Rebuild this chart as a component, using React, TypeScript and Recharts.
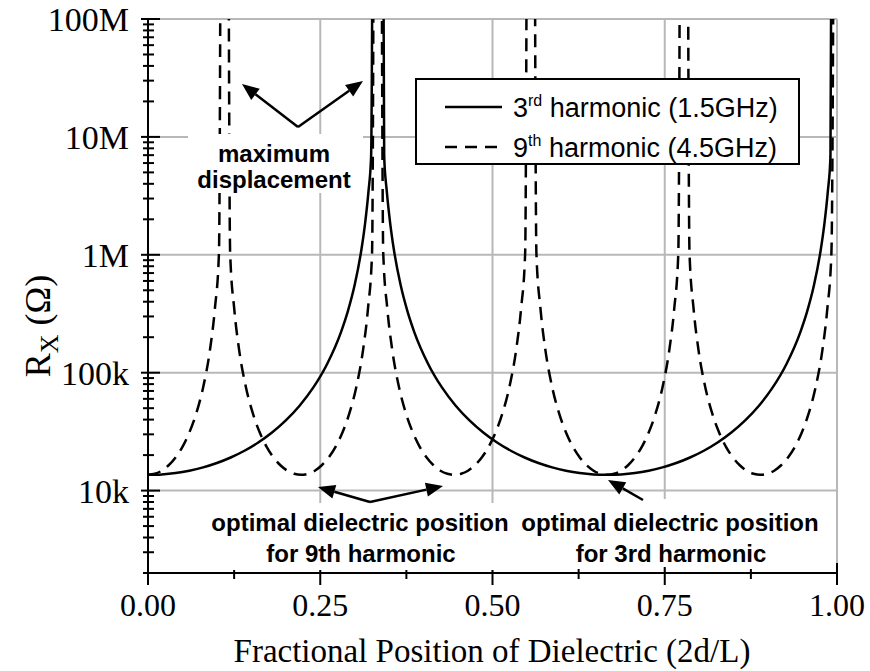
import { LineChart, Line, XAxis, YAxis, CartesianGrid, Legend } from 'recharts';

const FONT_SERIF = '"Liberation Serif", "Times New Roman", serif';
const FONT_SANS = '"Liberation Sans", Arial, sans-serif';

// 3rd harmonic (1.5GHz), solid line. 1e20 marks the off-scale pole.
const thirdX = [
  0, 0.02, 0.04, 0.06, 0.08, 0.1, 0.12, 0.14, 0.16, 0.18, 0.2, 0.22, 0.24, 0.26, 0.28, 0.29, 0.3, 0.31, 0.315, 0.32, 0.3238, 0.3333,
  0.3428, 0.3466, 0.3516, 0.3566, 0.3666, 0.3766, 0.3866, 0.4066, 0.4266, 0.4466, 0.4666, 0.4866, 0.5066, 0.5266, 0.5466, 0.5666, 0.5866, 0.6066, 0.6266, 0.6466, 0.6667,
  0.6867, 0.7067, 0.7267, 0.7467, 0.7667, 0.7867, 0.8067, 0.8267, 0.8467, 0.8667, 0.8867, 0.9067, 0.9267, 0.9467, 0.9567, 0.9667, 0.9767, 0.9817, 0.9867, 0.9905, 1.0,
];
const thirdR = [
  13600, 13720, 14090, 14750, 15730, 17130, 19080, 21780, 25590, 31100, 39400, 52500, 75000, 118600, 220000, 331000, 556000, 1130000, 1830000, 3450000, 6800000, 1e20,
  6800000, 3450000, 1830000, 1130000, 556000, 331000, 220000, 118600, 75000, 52500, 39400, 31100, 25590, 21780, 19080, 17130, 15730, 14750, 14090, 13720, 13600,
  13720, 14090, 14750, 15730, 17130, 19080, 21780, 25590, 31100, 39400, 52500, 75000, 118600, 220000, 331000, 556000, 1130000, 1830000, 3450000, 6800000, 1e20,
];

// 9th harmonic (4.5GHz), dashed line
const ninthX = [
  0, 0.01, 0.02, 0.03, 0.04, 0.05, 0.06, 0.07, 0.08, 0.09, 0.097, 0.103, 0.1111,
  0.1192, 0.1252, 0.1322, 0.1422, 0.1522, 0.1622, 0.1722, 0.1822, 0.1922, 0.2022, 0.2122, 0.2222,
  0.2322, 0.2422, 0.2522, 0.2622, 0.2722, 0.2822, 0.2922, 0.3022, 0.3122, 0.3192, 0.3252, 0.3333,
  0.3414, 0.3474, 0.3544, 0.3644, 0.3744, 0.3844, 0.3944, 0.4044, 0.4144, 0.4244, 0.4344, 0.4444,
  0.4544, 0.4644, 0.4744, 0.4844, 0.4944, 0.5044, 0.5144, 0.5244, 0.5344, 0.5414, 0.5474, 0.5556,
  0.5637, 0.5697, 0.5767, 0.5867, 0.5967, 0.6067, 0.6167, 0.6267, 0.6367, 0.6467, 0.6567, 0.6667,
  0.6767, 0.6867, 0.6967, 0.7067, 0.7167, 0.7267, 0.7367, 0.7467, 0.7567, 0.7637, 0.7697, 0.7778,
  0.7859, 0.7919, 0.7989, 0.8089, 0.8189, 0.8289, 0.8389, 0.8489, 0.8589, 0.8689, 0.8789, 0.8889,
  0.8989, 0.9089, 0.9189, 0.9289, 0.9389, 0.9489, 0.9589, 0.9689, 0.9789, 0.9859, 0.9919, 1.0,
];
const ninthR = [
  13600, 13880, 14750, 16400, 19100, 23500, 31100, 45100, 75000, 157000, 346000, 1040000, 1e20,
  1040000, 346000, 157000, 75000, 45100, 31100, 23500, 19100, 16400, 14750, 13880, 13600,
  13880, 14750, 16400, 19100, 23500, 31100, 45100, 75000, 157000, 346000, 1040000, 1e20,
  1040000, 346000, 157000, 75000, 45100, 31100, 23500, 19100, 16400, 14750, 13880, 13600,
  13880, 14750, 16400, 19100, 23500, 31100, 45100, 75000, 157000, 346000, 1040000, 1e20,
  1040000, 346000, 157000, 75000, 45100, 31100, 23500, 19100, 16400, 14750, 13880, 13600,
  13880, 14750, 16400, 19100, 23500, 31100, 45100, 75000, 157000, 346000, 1040000, 1e20,
  1040000, 346000, 157000, 75000, 45100, 31100, 23500, 19100, 16400, 14750, 13880, 13600,
  13880, 14750, 16400, 19100, 23500, 31100, 45100, 75000, 157000, 346000, 1040000, 1e20,
];

const xTicks = [0, 0.125, 0.25, 0.375, 0.5, 0.625, 0.75, 0.875, 1];
const xMajor = [0, 0.25, 0.5, 0.75, 1];
const xGrid = [0.25, 0.5, 0.75, 1];

const yMajor = [10000, 100000, 1000000, 10000000, 100000000];
const yLabels = ['10k', '100k', '1M', '10M', '100M'];
const yTicks = [
  2000, 3000, 4000, 5000, 6000, 7000, 8000, 9000,
  10000, 20000, 30000, 40000, 50000, 60000, 70000, 80000, 90000,
  100000, 200000, 300000, 400000, 500000, 600000, 700000, 800000, 900000,
  1000000, 2000000, 3000000, 4000000, 5000000, 6000000, 7000000, 8000000, 9000000,
  10000000, 20000000, 30000000, 40000000, 50000000, 60000000, 70000000, 80000000, 90000000,
  100000000,
];

const thirdData = thirdX.map((x, i) => ({ x, r: thirdR[i] }));
const ninthData = ninthX.map((x, i) => ({ x, r: ninthR[i] }));

const YTick = (props: any) => {
  const { x, y, payload } = props;
  const idx = yMajor.indexOf(payload.value);
  const major = idx >= 0;
  return (
    <g>
      <line x1={x - (major ? 7 : 5)} x2={x + (major ? 12 : 6)} y1={y} y2={y} stroke="#000" strokeWidth={2} />
      {major && (
        <text x={x - 19} y={y} dy={12} textAnchor="end" fontFamily={FONT_SERIF} fontSize={34} fill="#000">
          {yLabels[idx]}
        </text>
      )}
    </g>
  );
};

const XTick = (props: any) => {
  const { x, y, payload } = props;
  const major = xMajor.includes(payload.value);
  return (
    <g>
      <line x1={x} x2={x} y1={y - (major ? 10 : 4)} y2={y + (major ? 12 : 6)} stroke="#000" strokeWidth={2} />
      {major && (
        <text x={x} y={y + 43} textAnchor="middle" fontFamily={FONT_SERIF} fontSize={32} fill="#000">
          {payload.value.toFixed(2)}
        </text>
      )}
    </g>
  );
};

const LegendBox = () => (
  <svg width={385} height={87} style={{ display: 'block' }}>
    <rect x={1} y={1} width={383} height={85} fill="#fff" stroke="#000" strokeWidth={2} />
    <line x1={30} x2={87} y1={29} y2={29} stroke="#000" strokeWidth={2.5} />
    <line x1={30} x2={87} y1={69} y2={69} stroke="#000" strokeWidth={2.5} strokeDasharray="12 8" />
    <text x={98} y={39} fontFamily={FONT_SANS} fontSize={27} fill="#000" style={{ whiteSpace: 'pre' }}>
      <tspan>3</tspan>
      <tspan fontSize={16} dy={-11}>rd</tspan>
      <tspan dy={11}> harmonic (1.5GHz)</tspan>
    </text>
    <text x={98} y={79} fontFamily={FONT_SANS} fontSize={27} fill="#000" style={{ whiteSpace: 'pre' }}>
      <tspan>9</tspan>
      <tspan fontSize={16} dy={-11}>th</tspan>
      <tspan dy={11}> harmonic (4.5GHz)</tspan>
    </text>
  </svg>
);

function Arrow({ x1, y1, x2, y2 }: { x1: number; y1: number; x2: number; y2: number }) {
  const ang = Math.atan2(y2 - y1, x2 - x1);
  const len = 17;
  const hw = 7;
  const bx = x2 - len * Math.cos(ang);
  const by = y2 - len * Math.sin(ang);
  const px = -Math.sin(ang) * hw;
  const py = Math.cos(ang) * hw;
  return (
    <g>
      <line x1={x1} y1={y1} x2={bx} y2={by} stroke="#000" strokeWidth={2.5} />
      <polygon points={`${x2},${y2} ${bx + px},${by + py} ${bx - px},${by - py}`} fill="#000" />
    </g>
  );
}

const noteStyle = { fontFamily: FONT_SANS, fontSize: 24, fontWeight: 700, fill: '#000' } as const;

export default function App() {
  return (
    <div style={{ position: 'absolute', left: 0, top: 0, width: 870, height: 671, background: '#fff' }}>
      <LineChart width={870} height={671} margin={{ top: 19, right: 33, bottom: 0, left: 0 }}>
        <CartesianGrid
          horizontal
          vertical
          horizontalValues={yMajor}
          verticalValues={xGrid}
          stroke="#b8b8b8"
          strokeWidth={2}
        />
        <XAxis
          dataKey="x"
          type="number"
          domain={[0, 1]}
          ticks={xTicks}
          interval={0}
          height={98}
          tickSize={0}
          tickMargin={0}
          tickLine={false}
          axisLine={{ stroke: '#000', strokeWidth: 2 }}
          tick={<XTick />}
          allowDataOverflow
        />
        <YAxis
          type="number"
          scale="log"
          domain={[2000, 100000000]}
          ticks={yTicks}
          interval={0}
          width={148}
          tickSize={0}
          tickMargin={0}
          tickLine={false}
          axisLine={{ stroke: '#000', strokeWidth: 2 }}
          tick={<YTick />}
          allowDataOverflow
        />
        <Legend
          layout="vertical"
          align="center"
          verticalAlign="middle"
          wrapperStyle={{ left: 415, top: 78, width: 385 }}
          content={<LegendBox />}
        />
        <Line
          data={thirdData}
          dataKey="r"
          name="3rd harmonic (1.5GHz)"
          type="monotone"
          stroke="#000"
          strokeWidth={2.5}
          dot={false}
          isAnimationActive={false}
        />
        <Line
          data={ninthData}
          dataKey="r"
          name="9th harmonic (4.5GHz)"
          type="monotone"
          stroke="#000"
          strokeWidth={2.5}
          strokeDasharray="13 8"
          dot={false}
          isAnimationActive={false}
        />
      </LineChart>
      <svg width={870} height={671} style={{ position: 'absolute', left: 0, top: 0, pointerEvents: 'none' }}>
        <text x={38} y={326} transform="rotate(-90 38 326)" textAnchor="middle" dy={12} fontFamily={FONT_SERIF} fontSize={36} fill="#000">
          <tspan>R</tspan>
          <tspan fontSize={26} dy={8}>X</tspan>
          <tspan dy={-8}> (Ω)</tspan>
        </text>
        <text x={492} y={662} textAnchor="middle" fontFamily={FONT_SERIF} fontSize={33} fill="#000">
          Fractional Position of Dielectric (2d/L)
        </text>

        {/* annotation boxes hide the grid and curves behind the text */}
        <rect x={188} y={134} width={175} height={59} fill="#fff" />
        <rect x={207} y={503} width={308} height={67} fill="#fff" />
        <rect x={518} y={499} width={304} height={68} fill="#fff" />

        <text x={274} y={162} textAnchor="middle" {...noteStyle}>maximum</text>
        <text x={274} y={188} textAnchor="middle" {...noteStyle}>displacement</text>
        <Arrow x1={298} y1={127} x2={242} y2={84} />
        <Arrow x1={298} y1={127} x2={363} y2={81} />

        <text x={360} y={531} textAnchor="middle" {...noteStyle}>optimal dielectric position</text>
        <text x={361} y={562} textAnchor="middle" {...noteStyle}>for 9th harmonic</text>
        <Arrow x1={370} y1={502} x2={318} y2={487} />
        <Arrow x1={370} y1={502} x2={443} y2={486} />

        <text x={670} y={531} textAnchor="middle" {...noteStyle}>optimal dielectric position</text>
        <text x={671} y={562} textAnchor="middle" {...noteStyle}>for 3rd harmonic</text>
        <Arrow x1={643} y1={500} x2={608} y2={480} />
      </svg>
    </div>
  );
}
